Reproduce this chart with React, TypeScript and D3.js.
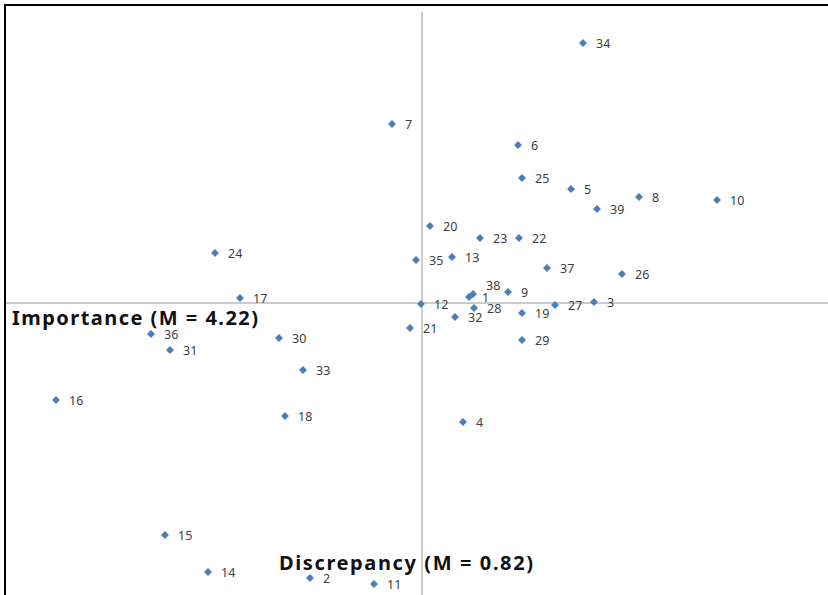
import React from "react";
import * as d3 from "d3";

const ids = [34, 7, 6, 25, 5, 8, 10, 39, 20, 23, 22, 24, 35, 13, 37, 26, 17, 38, 1, 9, 12, 3, 27, 28, 32, 19, 21, 29, 36, 31, 30, 33, 16, 18, 4, 15, 14, 2, 11];
// Discrepancy values (x)
const discrepancy = [1.464, 0.700, 1.204, 1.220, 1.416, 1.688, 2.000, 1.520, 0.852, 1.052, 1.208, -0.008, 0.796, 0.940, 1.320, 1.620, 0.092, 1.024, 1.008, 1.164, 0.816, 1.508, 1.352, 1.028, 0.952, 1.220, 0.772, 1.220, -0.264, -0.188, 0.248, 0.344, -0.644, 0.272, 0.984, -0.208, -0.036, 0.372, 0.628];
// Importance values (y)
const importance = [4.740, 4.578, 4.536, 4.470, 4.448, 4.432, 4.426, 4.408, 4.374, 4.350, 4.350, 4.320, 4.306, 4.312, 4.290, 4.278, 4.230, 4.238, 4.232, 4.242, 4.218, 4.222, 4.216, 4.210, 4.192, 4.200, 4.170, 4.146, 4.158, 4.126, 4.150, 4.086, 4.026, 3.994, 3.982, 3.756, 3.682, 3.670, 3.658];

const meanX = 0.82;
const meanY = 4.22;
const importanceLabel = "Importance (M = 4.22)";
const discrepancyLabel = "Discrepancy (M = 0.82)";

const W = 828;
const H = 595;

export default function App() {
  const x = d3.scaleLinear().domain([meanX - 416 / 250, meanX + 406 / 250]).range([6, 828]);
  const y = d3.scaleLinear().domain([meanY - 292 / 500, meanY + 298 / 500]).range([595, 5]);
  const diamond = d3.symbol().type(d3.symbolDiamond2).size(40)();
  const labelFont = "'Noto Sans', 'Open Sans', sans-serif";
  const titleFont = "'Noto Sans', 'Open Sans', sans-serif";

  return (
    <svg width={W} height={H} style={{ position: "absolute", left: 0, top: 0, background: "#fff" }}>
      <rect x={0} y={0} width={W} height={H} fill="#fff" />
      <line x1={x(meanX)} x2={x(meanX)} y1={12} y2={H} stroke="#9a9a9a" strokeWidth={1} />
      <line x1={6} x2={W} y1={y(meanY)} y2={y(meanY)} stroke="#9a9a9a" strokeWidth={1} />
      <line x1={5} x2={5} y1={4} y2={H} stroke="#000" strokeWidth={2} />
      <line x1={4} x2={W} y1={5} y2={5} stroke="#000" strokeWidth={2} />
      {ids.map((id, i) => {
        const px = x(discrepancy[i]);
        const py = y(importance[i]);
        const dy = id === 38 ? -9 : 0;
        return (
          <g key={id}>
            <path d={diamond} transform={`translate(${px},${py})`} fill="#4a7ebb" />
            <text x={px + 13} y={py + 4.5 + dy} fontSize={12.5} fontFamily={labelFont} fill="#404040">
              {id}
            </text>
          </g>
        );
      })}
      <text x={12} y={325} fontSize={20} fontWeight="bold" fontFamily={titleFont} fill="#111" textLength={246} lengthAdjust="spacing">
        {importanceLabel}
      </text>
      <text x={279} y={570} fontSize={20} fontWeight="bold" fontFamily={titleFont} fill="#111" textLength={254} lengthAdjust="spacing">
        {discrepancyLabel}
      </text>
    </svg>
  );
}
